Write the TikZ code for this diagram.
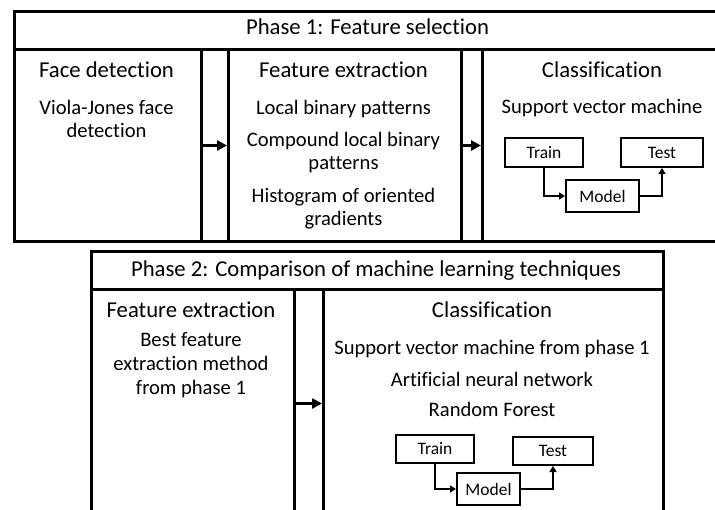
\documentclass[tikz,border=0pt]{standalone}
\usepackage{fontspec}
\setmainfont{Carlito}[Ligatures=CommonOff]
\usetikzlibrary{arrows.meta}

\tikzset{
  frame/.style={draw=black, line width=3pt, rectangle, inner sep=0pt},
  ttl/.style={anchor=base, inner sep=0pt, font=\fontsize{22.7}{27}\selectfont},
  txt/.style={anchor=base, inner sep=0pt, font=\fontsize{20.6}{24}\selectfont},
  minibox/.style={draw=black, line width=2pt, rectangle, inner sep=0pt,
                  font=\fontsize{17.5}{20}\selectfont},
  bigarrow/.style={draw=black, line width=3.6pt, -{Triangle[length=10pt,width=10pt]}},
  smallarrow/.style={draw=black, line width=2.2pt, -{Triangle[length=6pt,width=7pt]}},
}

\begin{document}
\begin{tikzpicture}[x=1pt, y=-1pt]
\useasboundingbox (0,0) rectangle (715,510);

% ---------------- Phase 1 ----------------
\node[frame, minimum width=709pt, minimum height=230pt, anchor=north west] (p1) at (13,10) {};
\node[frame, minimum width=709pt, minimum height=38pt, anchor=north west] (p1head) at (13,10) {};
\node[ttl] (p1title) at (367.5,35) {Phase 1: Feature selection};

\node[frame, minimum width=187pt, minimum height=192pt, anchor=north west] (fd) at (13,48) {};
\node[frame, minimum width=233pt, minimum height=192pt, anchor=north west] (fe) at (227,48) {};
\node[frame, minimum width=241pt, minimum height=192pt, anchor=north west] (cl) at (481,48) {};

\node[ttl] (fdt) at (106.5,78) {Face detection};
\node[txt] (fd1) at (106.5,115) {Viola-Jones face};
\node[txt] (fd2) at (106.5,138) {detection};

\node[ttl] (fet) at (343.5,78) {Feature extraction};
\node[txt] (fe1) at (343.5,115) {Local binary patterns};
\node[txt] (fe2) at (343.5,147) {Compound local binary};
\node[txt] (fe3) at (343.5,170) {patterns};
\node[txt] (fe4) at (343.5,203) {Histogram of oriented};
\node[txt] (fe5) at (343.5,226) {gradients};

\node[ttl] (clt) at (602,78) {Classification};
\node[txt] (cl1) at (602,114) {Support vector machine};

\node[minibox, minimum width=78pt, minimum height=29pt] (train1) at (544,152.5) {Train};
\node[minibox, minimum width=82pt, minimum height=29pt] (test1) at (662,152.5) {Test};
\node[minibox, minimum width=73pt, minimum height=32pt] (model1) at (602.5,196) {Model};

\draw[smallarrow] (train1.south) |- (model1.west);
\draw[smallarrow] (model1.east) -| (test1.south);

\draw[bigarrow] (fd.east) -- (fe.west);
\draw[bigarrow] (fe.east) -- (cl.west);

% ---------------- Phase 2 ----------------
\node[frame, minimum width=572pt, minimum height=270pt, anchor=north west] (p2) at (90,250) {};
\node[frame, minimum width=572pt, minimum height=38pt, anchor=north west] (p2head) at (90,250) {};
\node[ttl] (p2title) at (376,277) {Phase 2: Comparison of machine learning techniques};

\node[frame, minimum width=203pt, minimum height=228pt, anchor=north west] (fx) at (90,288) {};
\node[frame, minimum width=340pt, minimum height=228pt, anchor=north west] (cx) at (322,288) {};

\node[ttl] (fxt) at (191,318) {Feature extraction};
\node[txt] (fx1) at (191,347) {Best feature};
\node[txt] (fx2) at (191,371) {extraction method};
\node[txt] (fx3) at (191,395) {from phase 1};

\node[ttl] (cxt) at (492,318) {Classification};
\node[txt] (cx1) at (492,355) {Support vector machine from phase 1};
\node[txt] (cx2) at (492,387) {Artificial neural network};
\node[txt] (cx3) at (492,417) {Random Forest};

\node[minibox, minimum width=78pt, minimum height=28pt] (train2) at (435,449) {Train};
\node[minibox, minimum width=80pt, minimum height=28pt] (test2) at (553,451) {Test};
\node[minibox, minimum width=63pt, minimum height=32pt] (model2) at (488.5,489) {Model};

\draw[smallarrow] (train2.south) |- (model2.west);
\draw[smallarrow] (model2.east) -| (test2.south);

\draw[bigarrow] (fx.east) -- (cx.west);
\end{tikzpicture}
\end{document}
